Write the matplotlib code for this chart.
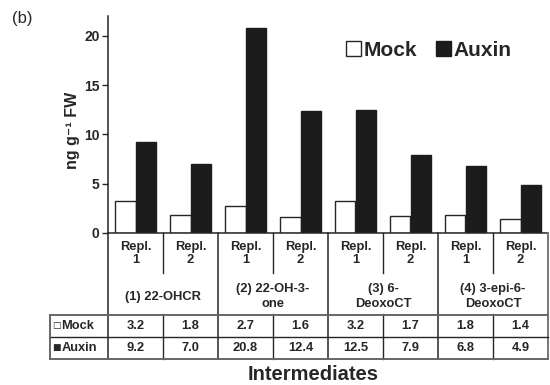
import matplotlib
matplotlib.use("Agg")
import matplotlib.pyplot as plt
from matplotlib.patches import Patch
import numpy as np

plt.rcParams['font.family'] = ['Liberation Sans', 'DejaVu Sans']

groups = ["(1) 22-OHCR", "(2) 22-OH-3-\none", "(3) 6-\nDeoxoCT", "(4) 3-epi-6-\nDeoxoCT"]
replicates = ["Repl.\n1", "Repl.\n2"]
mock = [3.2, 1.8, 2.7, 1.6, 3.2, 1.7, 1.8, 1.4]
auxin = [9.2, 7.0, 20.8, 12.4, 12.5, 7.9, 6.8, 4.9]
series_names = ["Mock", "Auxin"]
yticks = [0, 5, 10, 15, 20]

TXT = '#262626'
W, H = 550, 385
fig = plt.figure(figsize=(5.5, 3.85), dpi=100)

# main bar axes
ax = fig.add_axes([108 / W, 1 - 233 / H, 440 / W, 217 / H])
n = len(mock)
x = np.arange(n) + 0.5
bw = 0.38
ax.bar(x - bw / 2, mock, bw, facecolor='white', edgecolor=TXT, linewidth=1.0)
ax.bar(x + bw / 2, auxin, bw, facecolor='#1c1c1c', edgecolor='#1c1c1c', linewidth=1.0)
ax.set_xlim(0, n)
ax.set_ylim(0, 22)
ax.set_yticks(yticks)
ax.set_yticklabels([str(t) for t in yticks], fontsize=10, fontweight='bold', color=TXT)
ax.tick_params(axis='y', direction='out', length=4, width=1, color=TXT, pad=2)
ax.set_xticks([])
for s in ['top', 'right']:
    ax.spines[s].set_visible(False)
for s in ['left', 'bottom']:
    ax.spines[s].set_color(TXT)
    ax.spines[s].set_linewidth(1.1)
fig.text(72 / W, 1 - 130 / H, "ng g\u207b\u00b9 FW", rotation=90, ha='center', va='center',
         fontsize=11.5, fontweight='bold', color=TXT)

handles = [Patch(facecolor='white', edgecolor=TXT, linewidth=1.0),
           Patch(facecolor='#1c1c1c', edgecolor='#1c1c1c')]
leg = fig.legend(handles, series_names, loc='center', bbox_to_anchor=(429 / W, 1 - 50 / H),
                 bbox_transform=fig.transFigure, ncol=2, frameon=False,
                 handlelength=0.7, handleheight=0.7, handletextpad=0.15, columnspacing=0.9,
                 prop={'size': 15, 'weight': 'bold'})
for t in leg.get_texts():
    t.set_color(TXT)

# table axes (x in slot units, y in pixels)
left_px = 50
slot = 55.0
tax = fig.add_axes([left_px / W, 1 - 359 / H, (548 - left_px) / W, (359 - 233) / H])
x0 = -(108 - left_px) / slot
tax.set_xlim(x0, n)
tax.set_ylim(359, 233)
tax.axis('off')
lc = TXT
for xv in [0, 2, 4, 6]:
    tax.plot([xv, xv], [233, 359], color=lc, lw=1.1, clip_on=False)
tax.plot([n, n], [233, 359], color='#777777', lw=1.4, clip_on=False)
for xv in [1, 3, 5, 7]:
    tax.plot([xv, xv], [233, 273], color=lc, lw=1.0, clip_on=False)
    tax.plot([xv, xv], [314, 359], color=lc, lw=1.0, clip_on=False)
tax.plot([x0, n], [314.5, 314.5], color='#666666', lw=1.4, clip_on=False)
tax.plot([x0, n], [336.5, 336.5], color=lc, lw=1.0, clip_on=False)
tax.plot([x0, n], [358.5, 358.5], color='#666666', lw=1.4, clip_on=False)
tax.plot([x0, x0], [314.5, 358.5], color='#666666', lw=1.4, clip_on=False)

fs = 9.3
for i in range(n):
    tax.text(i + 0.5, 253.5, replicates[i % 2], ha='center', va='center', fontsize=fs,
             fontweight='bold', color=TXT, linespacing=1.15)
    tax.text(i + 0.5, 326, f"{mock[i]:.1f}", ha='center', va='center', fontsize=fs,
             fontweight='bold', color=TXT)
    tax.text(i + 0.5, 348, f"{auxin[i]:.1f}", ha='center', va='center', fontsize=fs,
             fontweight='bold', color=TXT)
for g, name in enumerate(groups):
    tax.text(2 * g + 1, 296.5, name, ha='center', va='center', fontsize=fs,
             fontweight='bold', color=TXT, linespacing=1.25)

row_y = [326, 348]
squares = ["\u25a1", "\u25a0"]
for k in range(2):
    tax.text((52 - 108) / slot, row_y[k] - 1.0, squares[k], ha='left', va='center', fontsize=6.5,
             family='DejaVu Sans', color=TXT)
    tax.text((61.5 - 108) / slot, row_y[k], series_names[k], ha='left', va='center', fontsize=fs,
             fontweight='bold', color=TXT)

fig.text(313 / W, 1 - 374 / H, "Intermediates", ha='center', va='center', fontsize=14.5,
         fontweight='bold', color=TXT)
fig.text(12 / W, 1 - 18 / H, "(b)", ha='left', va='center', fontsize=12, color=TXT)

fig.savefig("out.png", dpi=100)
